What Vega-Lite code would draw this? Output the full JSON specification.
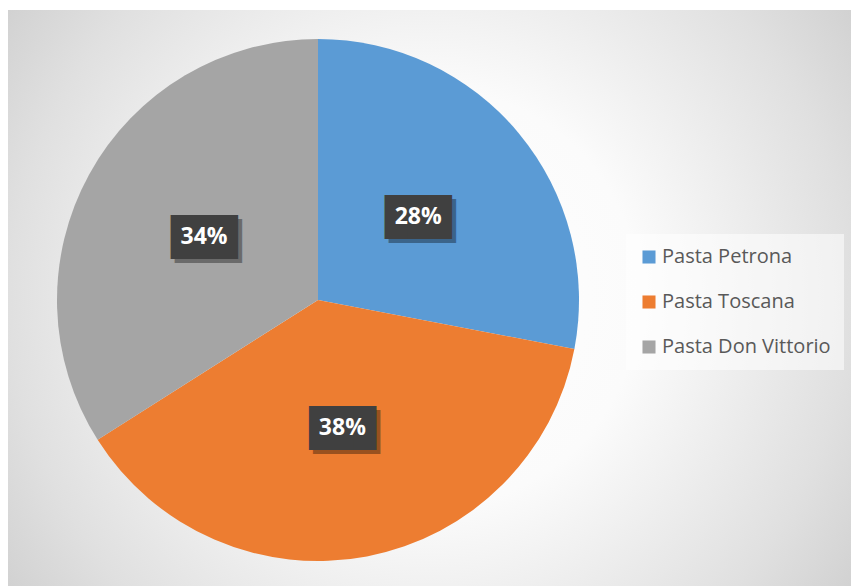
{
  "$schema": "https://vega.github.io/schema/vega-lite/v6.json",
  "autosize": {"type": "fit", "contains": "padding"},
  "width": 851,
  "height": 586,
  "padding": {"left": 8, "top": 10, "right": 0, "bottom": 0},
  "background": "#ffffff",
  "config": {
    "view": {
      "stroke": null,
      "fill": {
        "gradient": "radial",
        "x1": 0.5, "y1": 0.5, "r1": 0,
        "x2": 0.5, "y2": 0.5, "r2": 0.71,
        "stops": [
          {"offset": 0, "color": "#ffffff"},
          {"offset": 0.35, "color": "#fbfbfb"},
          {"offset": 0.7, "color": "#e0e0e0"},
          {"offset": 1, "color": "#c4c4c4"}
        ]
      }
    }
  },
  "data": {
    "values": [
      {"brand": "Pasta Petrona", "share": 0.28, "rank": 1},
      {"brand": "Pasta Toscana", "share": 0.38, "rank": 2},
      {"brand": "Pasta Don Vittorio", "share": 0.34, "rank": 3}
    ]
  },
  "encoding": {
    "theta": {"field": "share", "type": "quantitative", "stack": true},
    "order": {"field": "rank", "type": "ordinal"},
    "x": {"value": 310},
    "y": {"value": 290}
  },
  "layer": [
    {
      "mark": {"type": "arc", "outerRadius": 261},
      "encoding": {
        "color": {
          "field": "brand",
          "type": "nominal",
          "scale": {
            "domain": ["Pasta Petrona", "Pasta Toscana", "Pasta Don Vittorio"],
            "range": ["#5b9bd5", "#ed7d31", "#a5a5a5"]
          },
          "legend": {
            "title": null,
            "orient": "none",
            "legendX": 618,
            "legendY": 224,
            "symbolType": "square",
            "symbolSize": 170,
            "symbolStrokeWidth": 0,
            "labelFont": "Open Sans",
            "labelFontSize": 20,
            "labelColor": "#595959",
            "labelOffset": 3,
            "rowPadding": 25,
            "padding": 13,
            "fillColor": "rgba(255,255,255,0.55)",
            "labelLimit": 300
          }
        }
      }
    },
    {
      "mark": {"type": "text", "radius": 130, "font": "DejaVu Sans Mono", "fontSize": 37, "baseline": "alphabetic", "dx": 4, "dy": 17, "color": "#000000", "opacity": 0.35},
      "encoding": {"text": {"value": "███"}}
    },
    {
      "mark": {"type": "text", "radius": 130, "font": "DejaVu Sans Mono", "fontSize": 37, "baseline": "alphabetic", "dy": 13, "color": "#404040"},
      "encoding": {"text": {"value": "███"}}
    },
    {
      "mark": {"type": "text", "radius": 130, "font": "Open Sans", "fontWeight": "bold", "fontSize": 23, "baseline": "middle", "color": "#ffffff"},
      "encoding": {"text": {"field": "share", "type": "quantitative", "format": ".0%"}}
    }
  ]
}
